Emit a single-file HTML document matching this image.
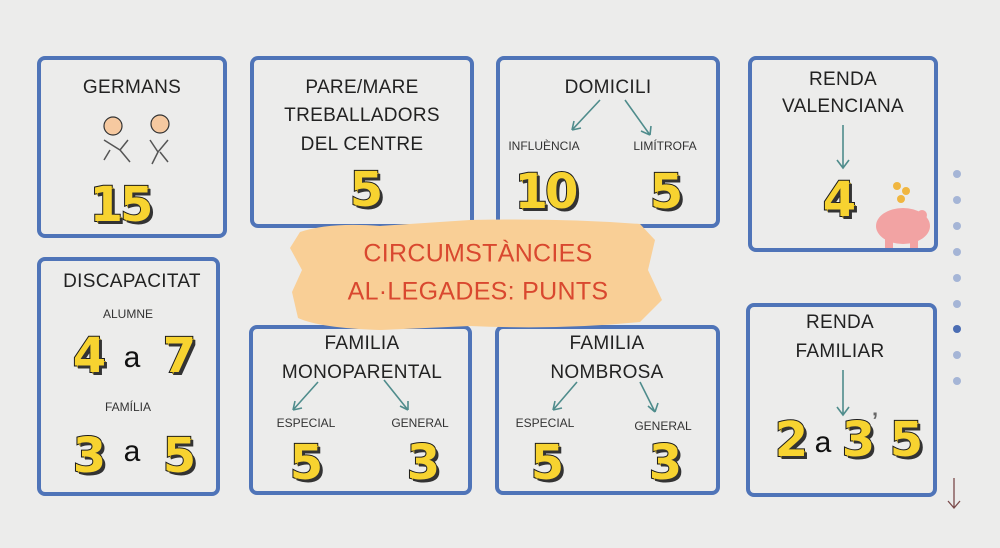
<!DOCTYPE html>
<html><head><meta charset="utf-8">
<style>
*{margin:0;padding:0;box-sizing:border-box}
body{width:1000px;height:548px;overflow:hidden;background:#ececeb;position:relative;font-family:"Liberation Sans",sans-serif;color:#222}
.b{position:absolute;border:4px solid #4f74b8;border-radius:8px}
.t{position:absolute;transform:translate(-50%,-50%);white-space:nowrap;font-size:19px;color:#222;letter-spacing:0.3px}
.s{position:absolute;transform:translate(-50%,-50%);white-space:nowrap;font-size:12px;color:#333}
.n{position:absolute;transform:translate(-50%,-50%);white-space:nowrap;font-size:48px;font-weight:900;font-family:"DejaVu Sans","Liberation Sans",sans-serif;color:#f7d330;-webkit-text-stroke:2px #1a1a1a;paint-order:stroke fill;text-shadow:3px 3px 0 #333,2px 2px 0 #b99b20;letter-spacing:-3px}
.a{position:absolute;transform:translate(-50%,-50%);font-size:30px;color:#111}
.d{position:absolute;width:8px;height:8px;border-radius:50%;background:#a5b5d6;left:953px}
</style></head><body>
<div class="b" style="left:37px;top:56px;width:190px;height:182px"></div>
<div class="b" style="left:250px;top:56px;width:224px;height:172px"></div>
<div class="b" style="left:496px;top:56px;width:224px;height:172px"></div>
<div class="b" style="left:748px;top:56px;width:190px;height:196px"></div>
<div class="b" style="left:37px;top:257px;width:183px;height:239px"></div>
<div class="b" style="left:249px;top:325px;width:223px;height:170px"></div>
<div class="b" style="left:495px;top:325px;width:225px;height:170px"></div>
<div class="b" style="left:746px;top:303px;width:191px;height:194px"></div>

<svg style="position:absolute;left:0;top:0" width="1000" height="548">
<path d="M300 232 Q330 222 380 226 L470 220 Q560 218 640 224 L655 240 L648 270 L662 300 L640 322 Q560 330 470 326 L380 330 Q320 328 298 318 L292 292 L302 270 L290 248 Z" fill="#f9cf96"/>
<g stroke="#4f8c8c" stroke-width="1.6" fill="none">
<path d="M600 100 L572 130 M572 130 L574 121 M572 130 L581 128"/>
<path d="M625 100 L650 135 M650 135 L641 131 M650 135 L651 126"/>
<path d="M843 125 L843 168 M837 160 L843 168 L849 160"/>
<path d="M843 370 L843 415 M837 407 L843 415 L849 407"/>
<path d="M318 382 L293 410 M293 410 L295 401 M293 410 L302 408"/>
<path d="M384 380 L408 410 M408 410 L400 406 M408 410 L408 401"/>
<path d="M577 382 L553 410 M553 410 L555 401 M553 410 L562 408"/>
<path d="M640 382 L655 412 M655 412 L648 406 M655 412 L658 403"/>
</g>
<g fill="#f2a3a3"><ellipse cx="903" cy="226" rx="27" ry="18"/><rect x="885" y="235" width="8" height="13"/><rect x="910" y="235" width="8" height="13"/><circle cx="922" cy="215" r="5"/></g>
<g fill="#f0b640"><circle cx="897" cy="186" r="4"/><circle cx="906" cy="191" r="4"/><circle cx="901" cy="199" r="4"/></g>
<g stroke="#333" stroke-width="1.2" fill="#f6c9a0"><circle cx="113" cy="126" r="9"/><circle cx="160" cy="124" r="9"/></g>
<path d="M104 140 L120 150 L128 140 M150 140 L158 152 L168 140 M110 150 L104 160 M120 150 L130 162 M158 152 L152 164 M160 152 L168 162" stroke="#555" stroke-width="1.5" fill="none"/>
<path d="M954 478 L954 508 M948 501 L954 508 L960 501" stroke="#7a4a4a" stroke-width="1.3" fill="none"/>
</svg>

<div class="t" style="left:132px;top:88px">GERMANS</div>
<div class="n" style="left:120px;top:205px">15</div>

<div class="t" style="left:362px;top:88px">PARE/MARE</div>
<div class="t" style="left:362px;top:116px">TREBALLADORS</div>
<div class="t" style="left:362px;top:145px">DEL CENTRE</div>
<div class="n" style="left:365px;top:190px">5</div>

<div class="t" style="left:608px;top:88px">DOMICILI</div>
<div class="s" style="left:544px;top:146px">INFLUÈNCIA</div>
<div class="s" style="left:665px;top:146px">LIMÍTROFA</div>
<div class="n" style="left:545px;top:192px">10</div>
<div class="n" style="left:665px;top:192px">5</div>

<div class="t" style="left:843px;top:80px">RENDA</div>
<div class="t" style="left:843px;top:107px">VALENCIANA</div>
<div class="n" style="left:838px;top:200px">4</div>

<div class="t" style="left:132px;top:282px">DISCAPACITAT</div>
<div class="s" style="left:128px;top:314px">ALUMNE</div>
<div class="n" style="left:88px;top:356px">4</div><div class="a" style="left:132px;top:358px">a</div><div class="n" style="left:178px;top:356px">7</div>
<div class="s" style="left:128px;top:407px">FAMÍLIA</div>
<div class="n" style="left:88px;top:456px">3</div><div class="a" style="left:132px;top:452px">a</div><div class="n" style="left:178px;top:456px">5</div>

<div class="t" style="left:362px;top:344px">FAMILIA</div>
<div class="t" style="left:362px;top:373px">MONOPARENTAL</div>
<div class="s" style="left:306px;top:423px">ESPECIAL</div>
<div class="s" style="left:420px;top:423px">GENERAL</div>
<div class="n" style="left:305px;top:463px">5</div>
<div class="n" style="left:422px;top:463px">3</div>

<div class="t" style="left:607px;top:344px">FAMILIA</div>
<div class="t" style="left:607px;top:373px">NOMBROSA</div>
<div class="s" style="left:545px;top:423px">ESPECIAL</div>
<div class="s" style="left:663px;top:426px">GENERAL</div>
<div class="n" style="left:546px;top:463px">5</div>
<div class="n" style="left:664px;top:463px">3</div>

<div class="t" style="left:840px;top:323px">RENDA</div>
<div class="t" style="left:840px;top:352px">FAMILIAR</div>
<div class="n" style="left:790px;top:440px">2</div><div class="a" style="left:823px;top:443px">a</div><div class="n" style="left:857px;top:440px">3</div><div style="position:absolute;left:872px;top:408px;font-size:22px;font-weight:bold;color:#666">’</div><div class="n" style="left:905px;top:440px">5</div>

<div class="t" style="left:478px;top:254px;font-size:25px;color:#d9482f">CIRCUMSTÀNCIES</div>
<div class="t" style="left:478px;top:292px;font-size:25px;color:#d9482f">AL·LEGADES: PUNTS</div>

<div class="d" style="top:170px"></div><div class="d" style="top:196px"></div><div class="d" style="top:222px"></div><div class="d" style="top:248px"></div><div class="d" style="top:274px"></div><div class="d" style="top:300px"></div><div class="d" style="top:325px;background:#4b6db3"></div><div class="d" style="top:351px"></div><div class="d" style="top:377px"></div>
</body></html>
